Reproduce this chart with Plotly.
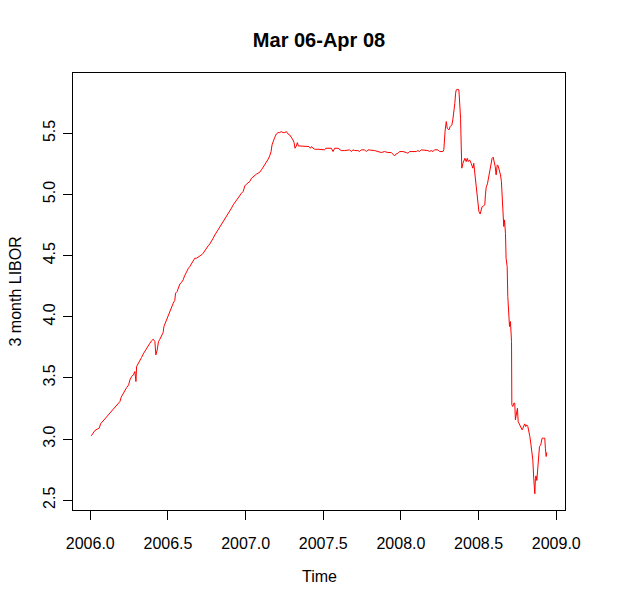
import plotly.graph_objects as go

# Time (decimal years) and 3 month LIBOR values
time_years = [
    2006.006, 2006.019, 2006.030, 2006.045, 2006.058, 2006.066, 2006.079, 2006.094, 2006.109, 2006.122,
    2006.137, 2006.148, 2006.165, 2006.180, 2006.191, 2006.199, 2006.212, 2006.223, 2006.234, 2006.247,
    2006.255, 2006.266, 2006.277, 2006.287, 2006.294, 2006.298, 2006.309, 2006.319, 2006.330, 2006.341,
    2006.352, 2006.362, 2006.373, 2006.384, 2006.394, 2006.405, 2006.416, 2006.422, 2006.431, 2006.439,
    2006.448, 2006.459, 2006.469, 2006.474, 2006.487, 2006.495, 2006.504, 2006.512, 2006.523, 2006.534,
    2006.544, 2006.549, 2006.559, 2006.568, 2006.577, 2006.587, 2006.598, 2006.607, 2006.615, 2006.624,
    2006.632, 2006.641, 2006.652, 2006.662, 2006.673, 2006.684, 2006.695, 2006.705, 2006.716, 2006.727,
    2006.737, 2006.748, 2006.759, 2006.770, 2006.780, 2006.791, 2006.802, 2006.812, 2006.823, 2006.834,
    2006.845, 2006.855, 2006.866, 2006.877, 2006.887, 2006.898, 2006.909, 2006.920, 2006.930, 2006.941,
    2006.952, 2006.962, 2006.973, 2006.984, 2006.995, 2007.005, 2007.016, 2007.027, 2007.038, 2007.048,
    2007.059, 2007.070, 2007.080, 2007.091, 2007.102, 2007.113, 2007.123, 2007.134, 2007.145, 2007.155,
    2007.164, 2007.170, 2007.177, 2007.188, 2007.198, 2007.209, 2007.220, 2007.230, 2007.241, 2007.252,
    2007.263, 2007.273, 2007.284, 2007.295, 2007.305, 2007.312, 2007.318, 2007.327, 2007.333, 2007.340,
    2007.348, 2007.370, 2007.391, 2007.408, 2007.417, 2007.425, 2007.434, 2007.445, 2007.466, 2007.488,
    2007.509, 2007.516, 2007.531, 2007.552, 2007.563, 2007.573, 2007.595, 2007.606, 2007.616, 2007.638,
    2007.659, 2007.670, 2007.681, 2007.691, 2007.702, 2007.723, 2007.734, 2007.745, 2007.766, 2007.777,
    2007.788, 2007.809, 2007.831, 2007.852, 2007.874, 2007.895, 2007.916, 2007.938, 2007.949, 2007.959,
    2007.970, 2007.981, 2007.991, 2008.013, 2008.034, 2008.045, 2008.056, 2008.077, 2008.099, 2008.109,
    2008.120, 2008.131, 2008.152, 2008.174, 2008.184, 2008.195, 2008.206, 2008.216, 2008.238, 2008.249,
    2008.270, 2008.276, 2008.285, 2008.292, 2008.298, 2008.309, 2008.317, 2008.328, 2008.334, 2008.341,
    2008.347, 2008.352, 2008.356, 2008.367, 2008.373, 2008.377, 2008.384, 2008.388, 2008.392, 2008.399,
    2008.405, 2008.412, 2008.420, 2008.427, 2008.433, 2008.442, 2008.452, 2008.463, 2008.469, 2008.476,
    2008.482, 2008.489, 2008.495, 2008.502, 2008.510, 2008.517, 2008.523, 2008.532, 2008.540, 2008.544,
    2008.549, 2008.557, 2008.566, 2008.572, 2008.581, 2008.587, 2008.594, 2008.600, 2008.607, 2008.613,
    2008.620, 2008.626, 2008.634, 2008.641, 2008.647, 2008.652, 2008.656, 2008.662, 2008.667, 2008.673,
    2008.677, 2008.684, 2008.688, 2008.695, 2008.699, 2008.705, 2008.712, 2008.714, 2008.720, 2008.727,
    2008.733, 2008.737, 2008.746, 2008.750, 2008.755, 2008.763, 2008.772, 2008.780, 2008.785, 2008.791,
    2008.797, 2008.804, 2008.810, 2008.817, 2008.823, 2008.830, 2008.836, 2008.842, 2008.849, 2008.855,
    2008.862, 2008.866, 2008.870, 2008.875, 2008.879, 2008.883, 2008.892, 2008.900, 2008.909, 2008.917,
    2008.926, 2008.930, 2008.935, 2008.939,
]

libor = [
    3.026, 3.053, 3.070, 3.081, 3.091, 3.124, 3.143, 3.162, 3.190, 3.211,
    3.225, 3.244, 3.266, 3.288, 3.307, 3.342, 3.375, 3.402, 3.421, 3.443,
    3.484, 3.511, 3.525, 3.552, 3.470, 3.593, 3.615, 3.634, 3.667, 3.696,
    3.716, 3.735, 3.756, 3.784, 3.803, 3.816, 3.797, 3.688, 3.729, 3.797,
    3.816, 3.844, 3.871, 3.920, 3.961, 4.002, 4.029, 4.056, 4.084, 4.111,
    4.133, 4.193, 4.206, 4.247, 4.269, 4.280, 4.302, 4.334, 4.356, 4.383,
    4.397, 4.411, 4.432, 4.457, 4.479, 4.479, 4.487, 4.492, 4.506, 4.520,
    4.541, 4.560, 4.580, 4.596, 4.615, 4.642, 4.669, 4.689, 4.710, 4.729,
    4.751, 4.770, 4.792, 4.819, 4.841, 4.860, 4.888, 4.915, 4.934, 4.956,
    4.975, 4.997, 5.010, 5.024, 5.070, 5.084, 5.092, 5.106, 5.133, 5.146,
    5.157, 5.166, 5.174, 5.182, 5.201, 5.223, 5.242, 5.261, 5.288, 5.315,
    5.351, 5.405, 5.433, 5.468, 5.495, 5.506, 5.506, 5.514, 5.506, 5.506,
    5.514, 5.495, 5.487, 5.468, 5.446, 5.424, 5.378, 5.397, 5.424, 5.397,
    5.397, 5.397, 5.392, 5.392, 5.378, 5.392, 5.378, 5.370, 5.370, 5.370,
    5.365, 5.378, 5.378, 5.378, 5.351, 5.378, 5.378, 5.370, 5.359, 5.359,
    5.359, 5.365, 5.351, 5.365, 5.359, 5.359, 5.351, 5.365, 5.365, 5.351,
    5.365, 5.365, 5.359, 5.351, 5.343, 5.351, 5.343, 5.343, 5.332, 5.315,
    5.332, 5.337, 5.351, 5.351, 5.343, 5.337, 5.351, 5.351, 5.351, 5.359,
    5.351, 5.365, 5.365, 5.359, 5.351, 5.359, 5.351, 5.365, 5.365, 5.351,
    5.351, 5.365, 5.528, 5.596, 5.542, 5.528, 5.555, 5.569, 5.610, 5.664,
    5.746, 5.828, 5.855, 5.861, 5.855, 5.773, 5.623, 5.405, 5.215, 5.255,
    5.269, 5.296, 5.269, 5.296, 5.269, 5.283, 5.255, 5.215, 5.255, 5.174,
    5.092, 4.983, 4.901, 4.860, 4.841, 4.874, 4.901, 4.907, 4.915, 4.997,
    5.059, 5.087, 5.146, 5.201, 5.269, 5.296, 5.305, 5.269, 5.228, 5.160,
    5.242, 5.234, 5.201, 5.160, 5.106, 4.956, 4.806, 4.738, 4.792, 4.683,
    4.479, 4.411, 4.165, 3.974, 3.920, 3.961, 3.797, 3.280, 3.266, 3.293,
    3.293, 3.157, 3.211, 3.252, 3.143, 3.116, 3.102, 3.075, 3.089, 3.116,
    3.124, 3.102, 3.116, 3.102, 3.075, 3.021, 2.966, 2.898, 2.830, 2.680,
    2.552, 2.680, 2.699, 2.661, 2.734, 2.857, 2.939, 2.952, 3.007, 3.007,
    3.007, 2.925, 2.857, 2.890,
]

x_ticks = [2006.0, 2006.5, 2007.0, 2007.5, 2008.0, 2008.5, 2009.0]
x_tick_labels = ["2006.0", "2006.5", "2007.0", "2007.5", "2008.0", "2008.5", "2009.0"]
y_ticks = [2.5, 3.0, 3.5, 4.0, 4.5, 5.0, 5.5]
y_tick_labels = ["2.5", "3.0", "3.5", "4.0", "4.5", "5.0", "5.5"]

title_text = "Mar 06-Apr 08"
x_label = "Time"
y_label = "3 month LIBOR"


def r_range(vals):
    lo, hi = min(vals), max(vals)
    pad = 0.04 * (hi - lo)
    return [lo - pad, hi + pad]


FONT = "Liberation Sans, Arial, sans-serif"

fig = go.Figure()
fig.add_trace(go.Scatter(
    x=time_years, y=libor, mode="lines",
    line=dict(color="#FF0000", width=1),
    hoverinfo="skip", showlegend=False,
))

axis_common = dict(
    showline=True, linecolor="black", linewidth=1, mirror=True,
    showgrid=False, zeroline=False, automargin=False,
    ticks="outside", ticklen=9, tickwidth=1, tickcolor="black",
    tickfont=dict(family=FONT, size=16, color="black"),
    tickmode="array",
)

fig.update_layout(
    width=640, height=602,
    paper_bgcolor="white", plot_bgcolor="white",
    margin=dict(l=73, r=75, t=73, b=92),
    font=dict(family=FONT, color="black"),
    title=dict(
        text="<b>" + title_text + "</b>",
        font=dict(family=FONT, size=20, color="black"),
        x=0.5, xref="paper", xanchor="center",
        y=1 - 40 / 602, yref="container", yanchor="middle",
    ),
    xaxis=dict(range=r_range(time_years), tickvals=x_ticks, ticktext=x_tick_labels,
               ticklabelstandoff=10, **axis_common),
    yaxis=dict(range=r_range(libor), tickvals=y_ticks, ticktext=y_tick_labels,
               tickangle=-90, ticklabelstandoff=2, **axis_common),
    annotations=[
        dict(text=x_label, x=0.5, y=0, xref="paper", yref="paper",
             xanchor="center", yanchor="middle", yshift=-66, showarrow=False,
             font=dict(family=FONT, size=16, color="black")),
        dict(text=y_label, x=0, y=0.5, xref="paper", yref="paper",
             xanchor="center", yanchor="middle", xshift=-58, textangle=-90,
             showarrow=False, font=dict(family=FONT, size=16, color="black")),
    ],
)

fig.write_html(
    "out.html",
    config={"displayModeBar": False},
    post_script="document.body.style.margin='0px';document.body.style.overflow='hidden';",
)
